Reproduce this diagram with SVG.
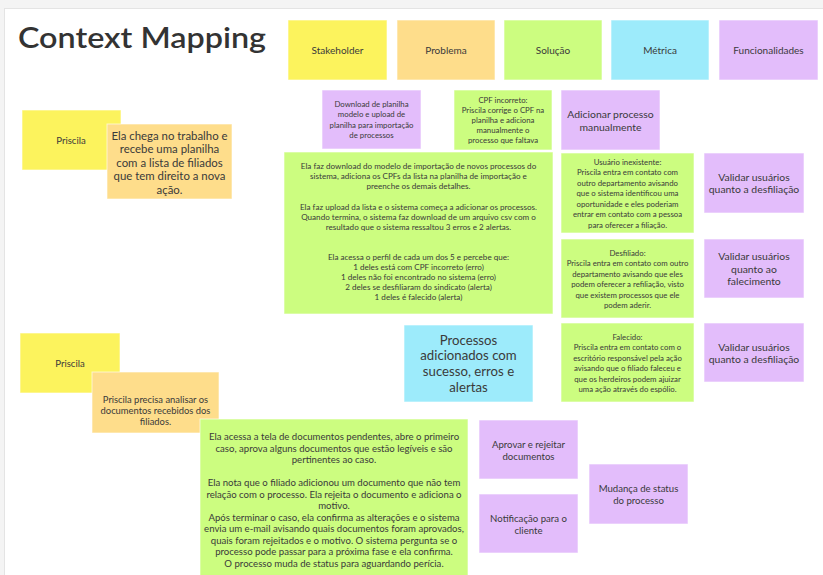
<svg xmlns="http://www.w3.org/2000/svg" width="823" height="575" viewBox="0 0 823 575">
<style>
.bg{fill:#f4f4f4}
.board{fill:#ffffff;stroke:#e4e4e4;stroke-width:1}
.n{stroke:#ffffff;stroke-opacity:0.6;stroke-width:1}
.y{fill:#fcf35d}
.o{fill:#fedd8b}
.g{fill:#ccfd80}
.c{fill:#9debfb}
.p{fill:#e3bdfb}
text{font-family:Lato,"Liberation Sans",sans-serif;fill:#3a3a3a;text-anchor:middle;dominant-baseline:central}
.title{font-size:29px;font-weight:600;text-anchor:start;dominant-baseline:alphabetic;fill:#333333}
.h{font-size:10px}
.s{font-size:7.8px}
.s1{font-size:8.1px}
.m{font-size:9.6px}
.l{font-size:10.4px}
.big{font-size:11.4px}
.xl{font-size:13.2px}
.b2{font-size:9.6px}
.o2{font-size:9.4px}
</style>
<rect class="bg" x="0" y="0" width="823" height="575"/>
<rect class="board" x="4.5" y="8.5" width="830" height="580"/>
<text class="title" x="18" y="48" textLength="248" lengthAdjust="spacingAndGlyphs">Context Mapping</text>

<g id="legend-stakeholder"><rect class="n y" x="288" y="20" width="99" height="60"/><text class="h" x="337.5" y="50">Stakeholder</text></g>
<g id="legend-problema"><rect class="n o" x="397" y="20" width="98" height="60"/><text class="h" x="446" y="50">Problema</text></g>
<g id="legend-solucao"><rect class="n g" x="504" y="20" width="98" height="60"/><text class="h" x="553" y="50">Solução</text></g>
<g id="legend-metrica"><rect class="n c" x="611" y="20" width="98" height="60"/><text class="h" x="660" y="50">Métrica</text></g>
<g id="legend-funcionalidades"><rect class="n p" x="719" y="20" width="99" height="60"/><text class="h" x="768.5" y="50">Funcionalidades</text></g>

<g id="priscila-1"><rect class="n y" x="22" y="110" width="99" height="60"/><text class="m" x="71" y="140">Priscila</text></g>
<g id="problema-1"><rect class="n o" x="107" y="124" width="125" height="75"/>
<text class="big"><tspan x="169.5" y="134.5">Ela chega no trabalho e</tspan><tspan x="169.5" y="148">recebe uma planilha</tspan><tspan x="169.5" y="161.5">com a lista de filiados</tspan><tspan x="169.5" y="175">que tem direito a nova</tspan><tspan x="169.5" y="188.5">ação.</tspan></text></g>

<g id="func-download"><rect class="n p" x="322" y="90" width="99" height="59"/>
<text class="s"><tspan x="371.5" y="103.8">Download de planilha</tspan><tspan x="371.5" y="114.3">modelo e upload de</tspan><tspan x="371.5" y="124.8">planilha para importação</tspan><tspan x="371.5" y="135.3">de processos</tspan></text></g>

<g id="sol-cpf"><rect class="n g" x="454" y="90" width="98" height="60"/>
<text class="s"><tspan x="503" y="100.4">CPF incorreto:</tspan><tspan x="503" y="110.2">Priscila corrige o CPF na</tspan><tspan x="503" y="120">planilha e adiciona</tspan><tspan x="503" y="129.8">manualmente o</tspan><tspan x="503" y="139.6">processo que faltava</tspan></text></g>

<g id="func-adicionar"><rect class="n p" x="561" y="90" width="99" height="60"/>
<text class="l"><tspan x="610.5" y="114">Adicionar processo</tspan><tspan x="610.5" y="126.5">manualmente</tspan></text></g>

<g id="sol-importacao"><rect class="n g" x="284" y="152" width="269" height="162"/>
<text class="s1"><tspan x="418.5" y="166">Ela faz download do modelo de importação de novos processos do</tspan><tspan x="418.5" y="176.2">sistema, adiciona os CPFs da lista na planilha de importação e</tspan><tspan x="418.5" y="186.4">preenche os demais detalhes.</tspan><tspan x="418.5" y="206.8">Ela faz upload da lista e o sistema começa a adicionar os processos.</tspan><tspan x="418.5" y="217">Quando termina, o sistema faz download de um arquivo csv com o</tspan><tspan x="418.5" y="227.2">resultado que o sistema ressaltou 3 erros e 2 alertas.</tspan><tspan x="418.5" y="257">Ela acessa o perfil de cada um dos 5 e percebe que:</tspan><tspan x="418.5" y="267">1 deles está com CPF incorreto (erro)</tspan><tspan x="418.5" y="277">1 deles não foi encontrado no sistema (erro)</tspan><tspan x="418.5" y="287">2 deles se desfiliaram do sindicato (alerta)</tspan><tspan x="418.5" y="297">1 deles é falecido (alerta)</tspan></text></g>

<g id="sol-inexistente"><rect class="n g" x="561" y="153" width="133" height="80"/>
<text class="s"><tspan x="627.5" y="161.5">Usuário inexistente:</tspan><tspan x="627.5" y="172">Priscila entra em contato com</tspan><tspan x="627.5" y="182.5">outro departamento avisando</tspan><tspan x="627.5" y="193">que o sistema identificou uma</tspan><tspan x="627.5" y="203.5">oportunidade e eles poderiam</tspan><tspan x="627.5" y="214">entrar em contato com a pessoa</tspan><tspan x="627.5" y="224.5">para oferecer a filiação.</tspan></text></g>

<g id="func-validar-desfiliacao-1"><rect class="n p" x="704" y="153" width="100" height="60"/>
<text class="l"><tspan x="754" y="177">Validar usuários</tspan><tspan x="754" y="189">quanto a desfiliação</tspan></text></g>

<g id="sol-desfiliado"><rect class="n g" x="561" y="239" width="133" height="79"/>
<text class="s"><tspan x="627.5" y="253">Desfiliado:</tspan><tspan x="627.5" y="263.4">Priscila entra em contato com outro</tspan><tspan x="627.5" y="273.8">departamento avisando que eles</tspan><tspan x="627.5" y="284.2">podem oferecer a refiliação, visto</tspan><tspan x="627.5" y="294.6">que existem processos que ele</tspan><tspan x="627.5" y="305">podem aderir.</tspan></text></g>

<g id="func-validar-falecimento"><rect class="n p" x="704" y="239" width="100" height="59"/>
<text class="l"><tspan x="754" y="256">Validar usuários</tspan><tspan x="754" y="268.5">quanto ao</tspan><tspan x="754" y="281">falecimento</tspan></text></g>

<g id="metrica-processos"><rect class="n c" x="404" y="325" width="129" height="77"/>
<text class="xl"><tspan x="468.5" y="339.5">Processos</tspan><tspan x="468.5" y="355.2">adicionados com</tspan><tspan x="468.5" y="370.9">sucesso, erros e</tspan><tspan x="468.5" y="386.6">alertas</tspan></text></g>

<g id="sol-falecido"><rect class="n g" x="561" y="323" width="133" height="79"/>
<text class="s"><tspan x="627.5" y="337">Falecido:</tspan><tspan x="627.5" y="347.4">Priscila entra em contato com o</tspan><tspan x="627.5" y="357.8">escritório responsável pela ação</tspan><tspan x="627.5" y="368.2">avisando que o filiado faleceu e</tspan><tspan x="627.5" y="378.6">que os herdeiros podem ajuizar</tspan><tspan x="627.5" y="389">uma ação através do espólio.</tspan></text></g>

<g id="func-validar-desfiliacao-2"><rect class="n p" x="704" y="323" width="100" height="59"/>
<text class="l"><tspan x="754" y="346.5">Validar usuários</tspan><tspan x="754" y="359">quanto a desfiliação</tspan></text></g>

<g id="priscila-2"><rect class="n y" x="20" y="333" width="100" height="60"/><text class="m" x="70" y="363">Priscila</text></g>
<g id="problema-2"><rect class="n o" x="92" y="372" width="127" height="61"/>
<text class="o2"><tspan x="155.5" y="399">Priscila precisa analisar os</tspan><tspan x="155.5" y="410">documentos recebidos dos</tspan><tspan x="155.5" y="421">filiados.</tspan></text></g>

<g id="sol-documentos"><rect class="n g" x="200" y="419" width="268" height="165"/>
<text class="b2"><tspan x="334" y="436">Ela acessa a tela de documentos pendentes, abre o primeiro</tspan><tspan x="334" y="447.5">caso, aprova alguns documentos que estão legíveis e são</tspan><tspan x="334" y="459">pertinentes ao caso.</tspan><tspan x="334" y="482">Ela nota que o filiado adicionou um documento que não tem</tspan><tspan x="334" y="493.5">relação com o processo. Ela rejeita o documento e adiciona o</tspan><tspan x="334" y="505">motivo.</tspan><tspan x="334" y="516.5">Após terminar o caso, ela confirma as alterações e o sistema</tspan><tspan x="334" y="528">envia um e-mail avisando quais documentos foram aprovados,</tspan><tspan x="334" y="539.5">quais foram rejeitados e o motivo. O sistema pergunta se o</tspan><tspan x="334" y="551">processo pode passar para a próxima fase e ela confirma.</tspan><tspan x="334" y="562.5">O processo muda de status para aguardando perícia.</tspan></text></g>

<g id="func-aprovar"><rect class="n p" x="479" y="420" width="99" height="59"/>
<text class="m"><tspan x="528.5" y="443.5">Aprovar e rejeitar</tspan><tspan x="528.5" y="455.5">documentos</tspan></text></g>
<g id="func-notificacao"><rect class="n p" x="479" y="494" width="99" height="59"/>
<text class="m"><tspan x="528.5" y="517.5">Notificação para o</tspan><tspan x="528.5" y="529.5">cliente</tspan></text></g>
<g id="func-mudanca"><rect class="n p" x="589" y="464" width="99" height="60"/>
<text class="m"><tspan x="638.5" y="488">Mudança de status</tspan><tspan x="638.5" y="500">do processo</tspan></text></g>

<g id="connectors"></g>
</svg>
